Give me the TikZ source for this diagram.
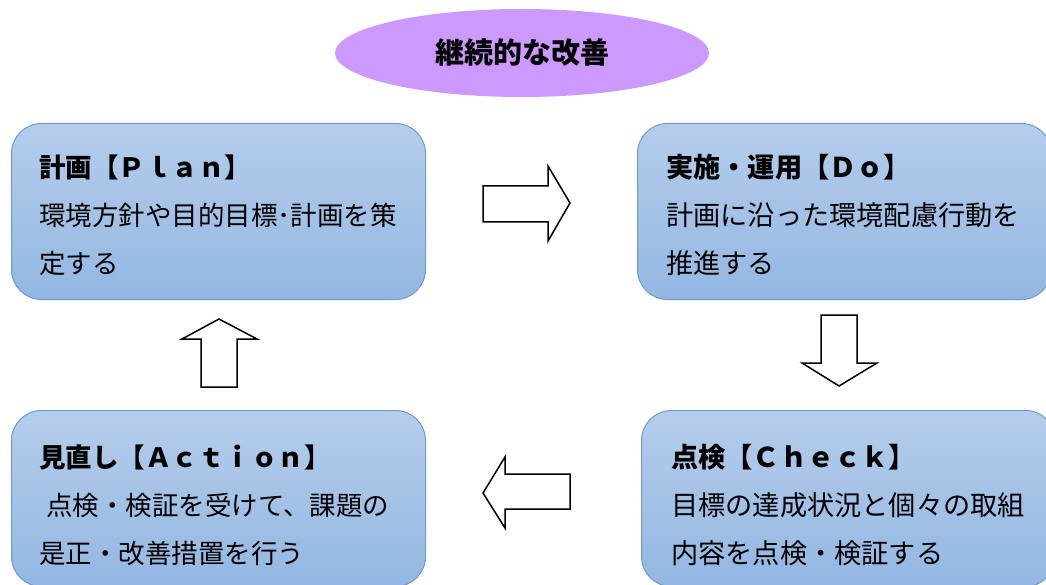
\documentclass[tikz,border=0pt]{standalone}
\usepackage{fontspec}
\setmainfont{Noto Sans CJK JP}
\usepackage{tikz}
\usetikzlibrary{shapes.geometric}

\definecolor{boxtop}{RGB}{181,205,235}
\definecolor{boxbottom}{RGB}{147,183,226}
\definecolor{boxline}{RGB}{108,155,210}
\definecolor{lavender}{RGB}{204,153,255}

\tikzset{
  pdcabox/.style={draw=boxline, line width=1pt, rounded corners=30pt,
    top color=boxtop, bottom color=boxbottom, anchor=north west,
    minimum width=414pt, minimum height=176pt, inner sep=0pt},
  pdcatext/.style={anchor=base west, inner sep=0pt, align=left,
    font=\fontsize{26.5}{48}\selectfont},
  blockarrow/.style={draw=black, line width=1.5pt, fill=white, line join=miter}
}

\begin{document}
\begin{tikzpicture}[x=1pt, y=-1pt]

\useasboundingbox (0,0) rectangle (1046,585);
\clip (0,0) rectangle (1046,585);

% Draw the ellipse at the top
\node[ellipse, fill=lavender, minimum width=374pt, minimum height=88pt, inner sep=0pt,
      font=\fontsize{29}{30}\selectfont\bfseries] (kaizen) at (522,53) {継続的な改善};

% Draw the four boxes
\node[pdcabox] (plan)   at (11,123)  {};
\node[pdcabox] (do)     at (637,123) {};
\node[pdcabox] (action) at (11,410)  {};
\node[pdcabox] (check)  at (641,410) {};

% base anchor sits on the last line
\node[pdcatext] (planText) at (39,273)
  {\textbf{計画【Ｐｌａｎ】}\\ 環境方針や目的目標･計画を策\\ 定する};
\node[pdcatext, font=\fontsize{27.2}{48}\selectfont] (doText) at (666,273)
  {\textbf{実施・運用【Ｄｏ】}\\ 計画に沿った環境配慮行動を\\ 推進する};
\node[pdcatext] (actionText) at (39,563)
  {\textbf{見直し【Ａｃｔｉｏｎ】}\\ \hspace*{7pt}点検・検証を受けて、課題の\\ 是正・改善措置を行う};
\node[pdcatext, font=\fontsize{27.2}{48}\selectfont] (checkText) at (671,563)
  {\textbf{点検【Ｃｈｅｃｋ】}\\ 目標の達成状況と個々の取組\\ 内容を点検・検証する};

% Draw the block arrows between the boxes
\draw[blockarrow] (483,186) -- (548,186) -- (548,166) -- (570,203) -- (548,241) -- (548,222) -- (483,222) -- cycle;
\draw[blockarrow] (821,315) -- (857,315) -- (857,363) -- (877,363) -- (839,386) -- (802,363) -- (821,363) -- cycle;
\draw[blockarrow] (570,474) -- (505,474) -- (505,457) -- (483,493) -- (505,528) -- (505,509) -- (570,509) -- cycle;
\draw[blockarrow] (201,387) -- (201,339) -- (182,339) -- (219,319) -- (257,339) -- (237,339) -- (237,387) -- cycle;

\end{tikzpicture}
\end{document}
